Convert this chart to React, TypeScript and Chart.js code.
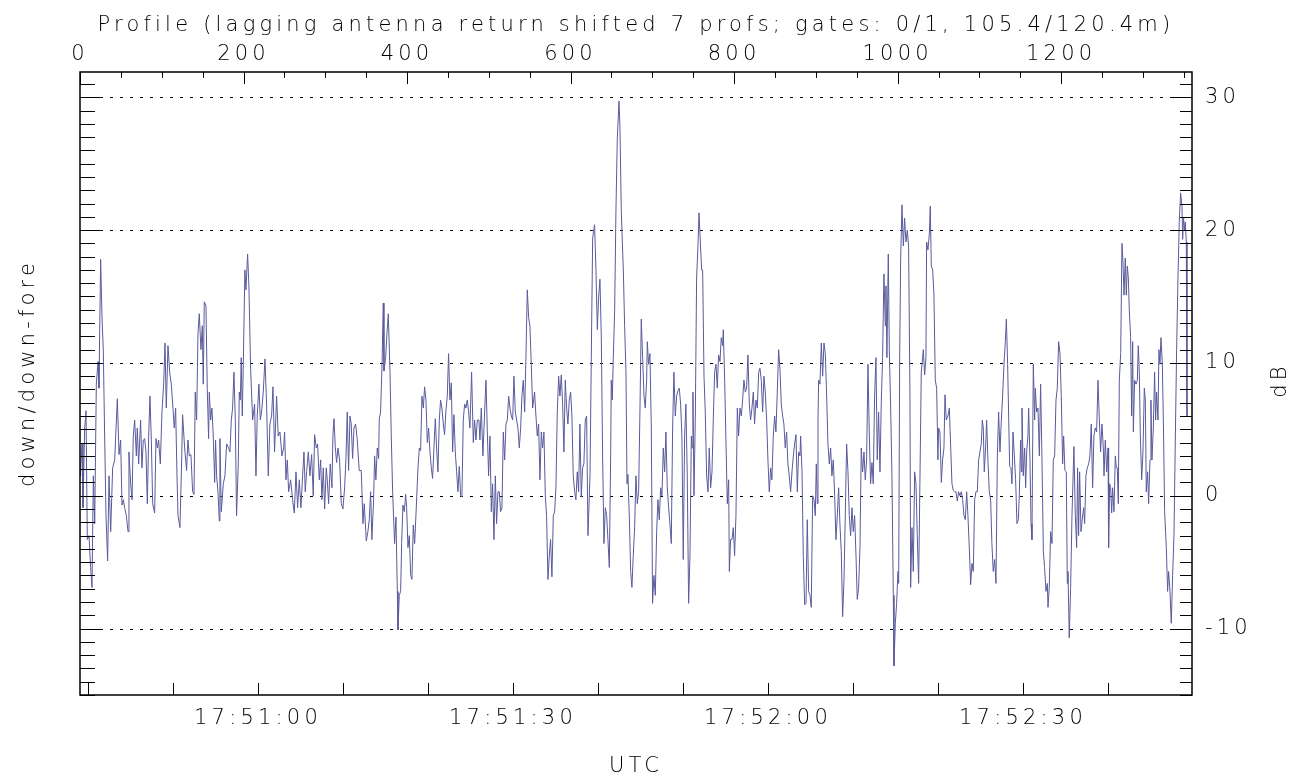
import React, { useEffect, useRef } from 'react';
import { Chart, registerables } from 'chart.js';

Chart.register(...registerables);

// ---------- texts ----------
const TITLE_TOP = 'Profile (lagging antenna return shifted 7 profs; gates: 0/1, 105.4/120.4m)';
const TITLE_BOTTOM = 'UTC';
const TITLE_LEFT = 'down/down-fore';
const TITLE_RIGHT = 'dB';

// ---------- axis ranges ----------
const TIME_START_S = 39.06; // seconds after 17:50:00 at the left edge
const TIME_END_S = 169.88;
const PROFILE_MIN = 0;
const PROFILE_MAX = 1360;
const DB_MIN = -15;
const DB_MAX = 31.9;
const DB_GRID = [-10, 0, 10, 20, 30];
const DB_LABELS = [-10, 0, 10, 20, 30];
const PROFILE_LABELS = [0, 200, 400, 600, 800, 1000, 1200];
const TIME_TICK_STEP = 10;
const TIME_LABEL_STEP = 30;
const PROFILE_LABEL_STEP = 200;
const PROFILE_MINOR_STEP = 50;

// ---------- data: offsets in 0.1 s from the left edge, values in dB ----------
const off1 = [0, 0.8, 2.4, 3.5, 5.5, 7.1, 8.6, 10.6, 12.5, 14.1, 15.7, 17.3, 19.2, 21.2, 22.3, 24.3, 25.9, 27.4, 29.0, 30.6, 32.5, 34.1, 36.1, 38.4, 40.8, 43.9, 45.9, 47.8, 49.4, 51.0, 52.5, 54.5, 56.5, 57.6, 59.6, 61.2, 62.7, 64.3, 66.3, 67.4, 69.0, 71.3, 72.9, 74.5, 76.1, 77.6, 79.2, 80.8, 82.3, 83.9, 85.5, 87.8, 89.4, 91.0, 92.5, 94.5, 96.4, 98.4, 100.0, 101.5, 103.5, 105.5, 107.4, 109.4, 110.9, 112.5, 114.1, 115.3];
const db1 = [1.5, 2.1, 3.9, -0.9, 5.1, 6.4, -3.3, -3.0, -5.4, -6.9, 1.5, -2.1, 8.4, 10.1, 8.1, 17.8, 13.4, 11.0, 4.5, -1.5, -4.9, 1.5, -2.7, 2.1, 2.7, 7.3, 3.1, 4.2, -0.7, -0.3, -0.9, -1.5, -2.7, 3.3, 0.9, -0.3, 4.5, 5.7, 3.0, 5.1, 2.4, 5.7, 2.1, 4.2, 4.3, 3.3, -0.6, 4.5, 7.5, 4.2, -0.6, -1.3, 4.3, 3.6, 4.2, 2.4, 6.3, 8.4, 11.5, 6.6, 11.3, 9.3, 8.4, 6.6, 5.1, 6.6, 1.5, -1.5];

const off2 = [117.6, 119.6, 120.7, 123.1, 125.4, 127.0, 128.6, 130.5, 132.5, 134.1, 135.6, 137.2, 138.8, 140.3, 142.3, 143.9, 145.0, 146.2, 148.2, 149.7, 151.3, 152.1, 153.7, 155.2, 156.8, 158.4, 159.5, 160.7, 162.3, 163.9, 164.6, 166.2, 168.6, 170.5, 172.5, 174.8, 176.4, 178.0, 179.5, 181.1, 182.7, 184.2, 186.2, 187.4, 188.6, 189.7, 190.9, 192.1, 194.0, 195.2, 197.2, 198.7, 200.7, 203.1, 205.4, 207.0, 208.5, 210.5, 212.1, 213.6, 215.6, 217.6, 219.5, 221.5, 223.4, 225.4, 227.0, 228.9, 231.3, 233.2, 235.2];
const db2 = [-2.4, 2.7, 6.1, 3.6, 1.9, 4.2, 3.0, 3.1, 0.3, 0.1, 7.8, 5.7, 12.2, 13.7, 11.0, 12.8, 8.4, 14.6, 14.3, 8.1, 4.3, 7.8, 5.7, 6.6, 4.5, 1.0, 4.2, 1.5, 0.3, -1.9, 4.3, -1.2, 0.9, 1.5, 3.9, 3.6, 3.3, 5.7, 6.6, 9.3, 5.7, -1.5, 2.4, 7.8, 7.2, 10.4, 6.0, 9.9, 17.0, 15.5, 18.2, 15.8, 9.6, 5.7, 6.9, 1.5, 6.0, 8.4, 5.7, 6.3, 7.8, 10.3, 6.9, 1.5, 5.4, 6.0, 8.2, 3.3, 7.5, 4.5, 4.8];

const off3 = [237.6, 239.6, 240.7, 242.3, 243.9, 245.4, 247.8, 250.1, 252.1, 254.1, 256.0, 258.0, 259.9, 261.9, 263.5, 265.0, 266.6, 268.6, 270.5, 272.5, 274.4, 276.0, 278.0, 279.5, 281.5, 283.1, 284.6, 286.2, 287.8, 289.7, 290.9, 292.5, 294.4, 296.4, 297.6, 298.8, 300.3, 301.9, 303.5, 305.4, 307.4, 309.3, 311.3, 312.9, 314.4, 316.0, 317.6, 319.1, 320.7, 322.3, 324.2, 326.2, 328.5, 330.9, 332.9, 334.4, 336.8, 338.7, 340.3, 341.9, 343.4, 345.4, 346.6, 348.1, 349.7, 351.3, 352.1, 353.6, 355.2, 356.8];
const db3 = [3.0, 3.6, 4.8, 1.2, 2.7, 0.3, 1.2, -0.3, -1.3, 1.8, -0.9, 1.2, -0.9, 1.5, 3.3, 0.3, 1.8, 3.3, 1.5, 3.1, 0.0, 4.6, 3.6, 3.9, 1.2, 2.7, -0.3, 2.1, -1.0, 2.1, 1.2, -0.6, 2.4, 0.6, 4.6, 5.8, 3.7, 2.5, 3.6, 2.7, -0.6, -1.0, 0.6, 2.8, 6.3, 1.9, 6.0, 5.4, 2.8, 5.1, 5.4, 4.2, 1.9, 1.9, -2.1, -0.6, -3.4, -2.7, -1.8, 0.3, -3.3, -0.3, 3.0, 1.2, 3.6, 2.8, 5.8, 6.3, 9.6, 14.5];

const off4 = [357.6, 359.6, 361.1, 362.7, 364.7, 366.2, 367.8, 370.1, 371.7, 373.3, 374.1, 375.6, 377.2, 378.4, 379.9, 381.5, 383.1, 384.3, 385.8, 387.4, 389.0, 390.5, 392.1, 393.7, 395.6, 397.6, 399.2, 400.7, 402.3, 403.9, 405.4, 407.0, 408.6, 410.1, 411.7, 413.3, 414.8, 416.4, 418.0, 419.5, 421.1, 422.7, 424.2, 425.8, 427.4, 428.9, 430.5, 432.1, 433.6, 435.2, 436.8, 438.4, 439.9, 441.5, 443.1, 444.6, 446.2, 447.8, 449.3, 450.9, 452.5, 454.0, 455.6, 457.2, 458.7, 460.7, 462.7, 464.2, 465.8, 467.4, 469.3, 470.5, 472.1, 474.0, 476.0];
const db4 = [9.4, 10.4, 12.2, 13.7, 9.3, 4.5, 0.3, -3.6, -1.6, -7.2, -10.1, -7.5, -7.2, -3.6, -0.7, -1.2, 0.1, -0.9, -3.9, -3.0, -6.0, -6.3, -2.2, -3.6, -0.9, 2.1, 3.6, 3.4, 7.5, 6.6, 8.2, 7.2, 4.0, 5.1, 3.3, 2.1, 1.3, 3.6, 5.8, 3.6, 1.8, 5.7, 7.2, 6.6, 5.4, 4.6, 6.4, 7.5, 10.7, 7.2, 8.5, 3.3, 6.1, 3.3, 1.8, 0.3, 2.2, 0.0, -0.1, 5.7, 6.9, 6.6, 7.2, 6.3, 5.1, 9.3, 4.0, 5.7, 4.2, 5.7, 5.7, 4.2, 6.6, 3.0, 6.3];

const off5 = [477.6, 479.2, 480.7, 482.3, 483.9, 485.4, 487.0, 488.6, 490.1, 491.7, 493.3, 494.8, 496.4, 498.0, 499.6, 501.1, 502.7, 504.3, 505.8, 507.4, 509.0, 510.5, 512.1, 513.7, 515.2, 516.8, 518.4, 519.9, 521.5, 523.1, 524.6, 526.2, 527.8, 529.3, 530.9, 532.5, 534.8, 536.4, 538.0, 539.5, 541.1, 542.7, 544.2, 545.8, 547.4, 548.9, 550.5, 552.1, 553.6, 555.2, 556.8, 558.4, 559.9, 561.5, 563.1, 564.6, 566.2, 567.8, 569.3, 570.9, 572.5, 574.0, 575.6, 577.2, 578.7, 580.3, 581.9, 583.4, 585.0, 586.6, 588.1, 589.7, 591.3, 592.8, 594.4, 596.0];
const db5 = [8.7, 4.8, 1.5, 4.5, -1.2, 0.9, -3.3, 1.5, -2.1, 0.3, 0.3, -1.2, -0.9, 4.8, 2.7, 5.4, 5.7, 7.5, 6.6, 6.0, 5.7, 9.0, 6.3, 5.7, 5.1, 3.6, 5.1, 7.5, 8.7, 6.3, 10.4, 15.5, 13.4, 12.8, 9.9, 6.6, 7.8, 6.0, 4.5, 5.4, 1.2, 4.8, 3.6, 4.8, 0.0, -1.5, -6.3, -4.5, -3.3, -6.1, -1.5, -1.2, 0.6, 6.3, 9.0, 7.5, 9.1, 6.9, 3.3, 8.7, 6.6, 5.4, 7.2, 7.8, 6.0, 1.5, 0.3, -0.3, 1.8, 0.3, 5.4, -0.1, 2.1, 2.4, 5.7, 6.0];

const off6 = [597.6, 598.4, 600.0, 601.5, 603.1, 605.4, 607.0, 608.6, 610.1, 611.7, 613.3, 614.8, 616.4, 618.0, 619.6, 621.1, 622.7, 624.3, 625.0, 626.2, 627.4, 629.0, 630.5, 632.1, 634.1, 635.2, 636.8, 638.0, 639.2, 640.7, 642.3, 643.5, 644.6, 646.2, 647.8, 649.3, 650.9, 652.5, 654.0, 655.6, 657.2, 658.8, 660.3, 661.9, 663.5, 665.0, 666.6, 667.4, 668.9, 670.5, 672.1, 673.6, 675.2, 676.8, 678.4, 679.9, 681.5, 683.1, 684.6, 686.2, 687.8, 689.3, 690.9, 692.5, 694.0, 695.6, 697.2, 698.7, 700.3, 701.9, 703.4, 705.0, 706.6, 708.1, 709.7, 711.3, 712.8, 714.4, 716.0];
const db6 = [-3.0, -1.5, 1.5, 10.4, 19.4, 20.4, 17.0, 12.5, 14.9, 16.3, 11.9, 3.0, -3.6, -0.9, -1.5, -3.3, -5.4, 3.0, 8.7, 7.2, 10.4, 14.0, 21.5, 26.9, 29.7, 27.8, 21.5, 19.1, 17.0, 12.8, 9.3, 0.9, 1.6, -1.5, -5.7, -6.9, -4.5, -2.4, 1.5, -0.6, 0.3, 6.6, 13.3, 10.4, 7.5, 6.6, 8.7, 11.6, 9.9, 10.7, 5.1, -8.1, -6.0, -7.5, -2.7, -0.3, -1.8, 0.6, 0.0, 3.6, 1.8, 4.8, 0.6, -0.9, -2.1, -3.6, 5.1, 9.3, 6.0, 7.5, 7.9, 8.1, 6.9, 4.5, -4.8, 4.5, 6.9, 1.5, -8.1];

const off7 = [717.6, 719.2, 720.0, 721.1, 722.3, 723.9, 725.4, 727.0, 728.2, 729.8, 731.3, 732.5, 734.1, 735.6, 737.2, 738.8, 740.3, 741.9, 743.5, 745.0, 746.6, 748.2, 749.7, 751.3, 752.9, 754.4, 756.0, 756.8, 758.4, 759.9, 761.5, 763.1, 763.9, 765.4, 767.0, 768.6, 770.1, 771.7, 773.3, 774.8, 776.4, 778.0, 779.5, 781.1, 782.7, 784.2, 785.8, 787.4, 788.9, 790.5, 792.1, 793.6, 795.2, 796.8, 798.4, 799.9, 801.5, 803.1, 804.6, 806.2, 807.8, 809.3, 810.9, 812.5, 814.0, 815.6, 817.2, 818.7, 820.3, 821.9, 823.4, 825.0, 826.6, 828.1, 829.7, 831.3, 832.8, 834.4, 836.0];
const db7 = [-4.5, 4.5, 3.6, 7.8, 0.0, 6.0, 16.4, 18.8, 21.3, 19.1, 17.0, 17.0, 9.0, 6.3, 1.5, 0.3, 3.6, 0.6, 1.8, 5.7, 9.3, 9.9, 8.1, 10.6, 10.1, 11.9, 11.3, 12.5, 8.7, 4.2, -0.6, 1.2, -5.7, -3.3, -3.3, -2.4, -4.5, -1.5, 6.6, 4.5, 6.6, 6.0, 7.2, 8.7, 7.8, 8.1, 10.6, 6.9, 5.7, 6.6, 7.8, 5.4, 7.2, 6.6, 9.3, 9.6, 8.7, 6.3, 9.0, 7.8, 5.7, 2.7, 0.3, 2.1, 1.2, 4.5, 6.0, 4.8, 7.8, 11.0, 9.6, 6.9, 6.0, 5.4, 3.6, 4.8, 2.4, 1.5, 0.3];

const off8 = [837.6, 839.2, 840.7, 842.3, 843.9, 845.4, 847.0, 847.8, 849.4, 850.9, 852.5, 854.1, 855.6, 857.2, 858.8, 860.3, 861.9, 863.5, 865.0, 866.2, 867.4, 868.2, 869.0, 870.5, 872.1, 873.7, 875.2, 876.8, 878.4, 879.9, 881.5, 883.1, 884.6, 886.2, 887.8, 889.3, 890.9, 892.5, 894.0, 895.6, 897.2, 898.8, 900.3, 901.9, 903.5, 905.0, 906.6, 908.2, 909.7, 911.3, 912.9, 914.4, 916.0, 917.6, 919.1, 920.7, 922.3, 923.8, 925.4, 927.0, 928.5, 930.1, 931.7, 933.2, 934.8, 936.4, 937.9, 939.5, 941.1, 942.7, 944.2, 945.8, 947.4, 948.1, 949.3, 950.9, 952.1, 953.6, 955.2, 956.8];
const db8 = [1.8, 3.0, 3.9, 4.6, 0.3, 3.3, 3.0, 4.5, 1.8, -4.5, -8.2, -8.1, -1.8, -7.2, -7.5, -8.4, 0.0, -0.3, -1.5, 2.4, -0.6, 5.7, 8.7, 8.4, 11.5, 9.0, 11.5, 10.7, 7.5, 3.9, 2.4, 3.6, 1.5, 2.7, 0.0, -3.3, -1.5, 0.6, -2.1, -4.2, -9.1, -6.3, -1.5, 3.9, 1.8, -1.5, -3.0, -0.9, -2.7, -1.5, -4.5, -7.8, -6.9, -3.9, 3.6, 1.8, 3.3, 1.2, 2.7, 9.9, 4.8, 0.9, 2.5, 0.9, 7.5, 10.4, 2.7, 6.3, 1.8, 7.2, 10.4, 16.7, 12.8, 15.8, 10.4, 18.2, 11.0, 6.9, 1.5, -7.5];

const off9 = [957.6, 959.2, 960.7, 962.3, 963.1, 964.3, 965.4, 967.0, 968.6, 970.1, 971.7, 973.3, 974.8, 976.4, 977.2, 978.8, 980.3, 981.9, 983.5, 985.0, 986.6, 988.2, 989.7, 991.3, 992.1, 993.7, 995.2, 996.0, 997.6, 999.2, 1000.3, 1001.5, 1003.1, 1004.6, 1006.2, 1007.8, 1009.3, 1010.1, 1011.7, 1013.3, 1014.8, 1016.4, 1017.6, 1019.1, 1021.1, 1022.7, 1024.2, 1025.8, 1027.4, 1028.9, 1030.5, 1032.1, 1033.6, 1035.2, 1036.8, 1038.4, 1039.9, 1041.5, 1043.1, 1044.6, 1046.2, 1047.8, 1049.3, 1050.9, 1052.5, 1054.0, 1055.6, 1057.2, 1058.7, 1060.3, 1061.5, 1062.7, 1063.8, 1065.4, 1066.6, 1068.1, 1069.7, 1071.3, 1072.8, 1074.4, 1076.0];
const db9 = [-12.8, -9.6, -8.1, -5.7, -6.6, 10.4, 17.6, 21.9, 18.8, 20.9, 19.1, 20.0, 18.8, 7.5, -6.9, -2.4, -5.7, 1.8, 0.9, -3.0, -6.6, 1.5, 9.3, 10.4, 11.0, 9.1, 10.4, 19.1, 18.5, 19.7, 21.8, 17.3, 17.0, 15.2, 8.7, 8.1, 2.7, 5.1, 4.8, 1.0, 2.7, 3.6, 7.6, 5.7, 6.0, 6.6, 3.9, 0.9, 0.4, 0.3, 0.3, -0.4, 0.3, 0.0, 0.3, -0.3, -1.5, -1.8, 0.3, -1.5, -3.9, -6.7, -5.1, -5.7, -0.3, 0.3, 0.3, 2.7, 3.3, 3.9, 5.7, 5.1, 1.8, 3.6, 5.7, 2.7, 0.3, -0.3, -3.6, -5.7, -4.8];

const off10 = [1077.6, 1079.2, 1080.7, 1082.3, 1083.9, 1085.4, 1087.0, 1088.6, 1089.8, 1091.3, 1092.5, 1093.7, 1095.2, 1096.4, 1097.6, 1099.2, 1100.7, 1102.3, 1103.9, 1105.0, 1106.6, 1107.4, 1108.2, 1109.7, 1111.3, 1112.5, 1113.7, 1115.2, 1116.0, 1117.6, 1118.8, 1119.9, 1121.5, 1123.1, 1123.9, 1125.4, 1127.0, 1128.6, 1130.1, 1131.7, 1133.3, 1134.8, 1136.4, 1138.0, 1138.8, 1140.3, 1141.9, 1143.5, 1145.0, 1146.6, 1148.2, 1149.7, 1151.3, 1152.9, 1154.4, 1156.0, 1157.2, 1158.7, 1160.3, 1161.5, 1162.3, 1163.8, 1165.4, 1167.0, 1169.3, 1170.9, 1172.5, 1173.6, 1174.8, 1176.0, 1177.6, 1179.1, 1180.7, 1181.9, 1183.4, 1185.0, 1186.6, 1188.1, 1189.7, 1191.3, 1192.8, 1194.4, 1196.0];
const db10 = [-6.6, 3.0, 6.3, 3.3, 5.7, 7.5, 9.9, 11.6, 13.3, 9.9, 6.0, 2.2, 2.1, 0.9, 4.8, 3.0, 1.2, -2.1, -1.8, 0.0, 4.2, 1.8, 6.6, 1.5, 3.6, 0.6, 3.3, 4.5, 6.6, 2.7, -2.1, -3.3, 9.9, 5.7, 8.1, 6.3, 6.6, 3.0, 8.4, 2.7, -4.2, -5.4, -7.2, -6.6, -8.4, -6.9, -2.7, -3.6, 2.7, 3.0, 7.2, 8.1, 11.6, 10.7, 7.5, 2.4, 4.5, 1.9, 1.8, -6.6, -5.7, -10.7, -6.9, -1.5, 3.7, -1.5, -3.9, 2.1, -3.0, 1.8, -2.7, -1.8, -0.9, -2.1, 1.5, 2.1, 2.4, 3.0, 5.4, 0.6, 4.5, 5.1, 4.8];

const off11 = [1197.6, 1199.2, 1200.7, 1202.3, 1203.9, 1204.7, 1206.2, 1207.8, 1209.4, 1210.1, 1211.3, 1212.5, 1213.7, 1214.8, 1216.4, 1218.0, 1219.2, 1220.3, 1221.5, 1222.7, 1224.3, 1225.8, 1227.0, 1228.2, 1229.7, 1230.9, 1232.1, 1233.3, 1234.4, 1236.0, 1237.2, 1238.4, 1239.2, 1240.7, 1242.3, 1243.9, 1245.0, 1246.2, 1247.4, 1249.0, 1250.5, 1252.1, 1253.3, 1254.4, 1256.0, 1257.2, 1258.8, 1259.9, 1261.1, 1262.7, 1264.2, 1265.4, 1266.6, 1268.2, 1269.3, 1270.5, 1271.7, 1273.3, 1274.8, 1276.0, 1278.0, 1279.5, 1280.7, 1282.3, 1283.8, 1285.4, 1287.0, 1288.5, 1290.1, 1291.7, 1293.2, 1294.8, 1296.4, 1297.2, 1298.3, 1299.5, 1300.3, 1301.5, 1302.3];
const db11 = [8.7, 5.7, 3.3, 5.4, 3.6, 1.5, 4.2, 1.8, 3.6, -3.9, 0.9, 0.6, -1.3, 0.6, -1.2, 3.0, 2.1, 2.1, -0.6, 8.7, 10.7, 19.0, 17.6, 15.1, 17.9, 15.1, 17.3, 16.4, 14.0, 11.9, 6.0, 11.6, 4.8, 8.7, 8.4, 8.7, 11.3, 9.3, 4.5, 1.2, 3.3, 8.1, 7.2, 0.3, 1.8, -0.6, 2.7, 7.2, 2.7, 5.1, 9.3, 5.7, 7.8, 5.7, 11.0, 9.9, 11.9, 9.9, 4.5, -1.2, -3.9, -7.2, -5.7, -7.2, -9.6, -6.0, -3.0, 3.9, 11.0, 16.4, 20.6, 22.8, 21.8, 19.3, 20.9, 20.0, 20.6, 19.1, 6.0];

const SEGMENTS: [number[], number[]][] = [
  [off1, db1], [off2, db2], [off3, db3], [off4, db4], [off5, db5], [off6, db6],
  [off7, db7], [off8, db8], [off9, db9], [off10, db10], [off11, db11],
];

// ---------- styles ----------
const LINE_COLOR = '#5a5a9c';
const TEXT_COLOR = '#000';
const FONT_FAMILY = '"DejaVu Sans", "Liberation Sans", sans-serif';
const FONT_SIZE = 21;
const FONT_WEIGHT = 200;
const LETTER_SPACING = '4.2px';
const GRID_DASH = [3, 7];
const LEFT_W = 80;
const RIGHT_W = 116;
const TOP_H = 72;
const BOTTOM_H = 85;
const TICK_Y_MAJOR = 22;
const TICK_Y_MINOR_L = 15;
const TICK_Y_MINOR_R = 12;
const TICK_BOTTOM = 12;
const TICK_TOP_MAJOR = 12;
const TICK_TOP_MINOR = 6;
const LEFT_TITLE_X = 29;
const LEFT_TITLE_Y = 373;
const RIGHT_TITLE_X = 1281;
const RIGHT_TITLE_Y = 380;

const font = { family: FONT_FAMILY, size: FONT_SIZE, weight: FONT_WEIGHT as any };
const fontString = `${FONT_WEIGHT} ${FONT_SIZE}px ${FONT_FAMILY}`;

function fmtTime(sec: number): string {
  const total = 17 * 3600 + 50 * 60 + Math.round(sec);
  const h = Math.floor(total / 3600);
  const m = Math.floor((total % 3600) / 60);
  const s = total % 60;
  const p = (n: number) => String(n).padStart(2, '0');
  return `${p(h)}:${p(m)}:${p(s)}`;
}

function fmtDb(v: number): string {
  return String(v);
}

function drawVerticalText(ctx: any, text: string, x: number, y: number) {
  ctx.save();
  ctx.font = fontString;
  ctx.letterSpacing = LETTER_SPACING;
  ctx.fillStyle = TEXT_COLOR;
  ctx.textAlign = 'center';
  ctx.textBaseline = 'middle';
  ctx.translate(x, y);
  ctx.rotate(-Math.PI / 2);
  ctx.fillText(text, 0, 0);
  ctx.restore();
}

const framePlugin = {
  id: 'idlFrame',
  beforeLayout(chart: any) {
    chart.ctx.letterSpacing = LETTER_SPACING;
  },
  beforeDraw(chart: any) {
    chart.ctx.letterSpacing = LETTER_SPACING;
  },
  beforeDatasetsDraw(chart: any) {
    const { ctx, chartArea: a, scales } = chart;
    ctx.save();
    ctx.strokeStyle = '#000';
    ctx.lineWidth = 1;
    ctx.setLineDash(GRID_DASH);
    for (const v of DB_GRID) {
      const y = Math.round(scales.y.getPixelForValue(v)) + 0.5;
      ctx.beginPath();
      ctx.moveTo(a.left, y);
      ctx.lineTo(a.right, y);
      ctx.stroke();
    }
    ctx.restore();
  },
  afterDatasetsDraw(chart: any) {
    const { ctx, chartArea: a, scales } = chart;
    ctx.save();
    ctx.strokeStyle = '#000';
    ctx.lineWidth = 1;
    ctx.setLineDash([]);
    ctx.beginPath();
    for (let v = Math.ceil(DB_MIN); v <= Math.floor(DB_MAX); v++) {
      const py = Math.round(scales.y.getPixelForValue(v)) + 0.5;
      const major = v % 10 === 0;
      ctx.moveTo(a.left, py);
      ctx.lineTo(a.left + (major ? TICK_Y_MAJOR : TICK_Y_MINOR_L), py);
      ctx.moveTo(a.right, py);
      ctx.lineTo(a.right - (major ? TICK_Y_MAJOR : TICK_Y_MINOR_R), py);
    }
    for (let t = Math.ceil(TIME_START_S / TIME_TICK_STEP) * TIME_TICK_STEP; t <= TIME_END_S; t += TIME_TICK_STEP) {
      const px = Math.round(scales.x.getPixelForValue(t)) + 0.5;
      ctx.moveTo(px, a.bottom);
      ctx.lineTo(px, a.bottom - TICK_BOTTOM);
    }
    for (let p = PROFILE_MIN; p <= PROFILE_MAX; p += PROFILE_MINOR_STEP) {
      const px = Math.round(scales.xTop.getPixelForValue(p)) + 0.5;
      ctx.moveTo(px, a.top);
      ctx.lineTo(px, a.top + (p % PROFILE_LABEL_STEP === 0 ? TICK_TOP_MAJOR : TICK_TOP_MINOR));
    }
    ctx.stroke();
    ctx.lineWidth = 1.5;
    ctx.strokeRect(a.left, a.top, a.right - a.left, a.bottom - a.top);
    ctx.restore();
  },
  afterDraw(chart: any) {
    const { ctx } = chart;
    drawVerticalText(ctx, TITLE_LEFT, LEFT_TITLE_X, LEFT_TITLE_Y);
    drawVerticalText(ctx, TITLE_RIGHT, RIGHT_TITLE_X, RIGHT_TITLE_Y);
  },
};

export default function App() {
  const ref = useRef<HTMLCanvasElement | null>(null);

  useEffect(() => {
    document.body.style.margin = '0';
    const canvas = ref.current;
    if (!canvas) return;
    const points: { x: number; y: number }[] = [];
    for (const [offs, vals] of SEGMENTS) {
      offs.forEach((o, i) => points.push({ x: TIME_START_S + o / 10, y: vals[i] }));
    }
    const timeTicks: number[] = [];
    for (let t = Math.ceil(TIME_START_S / TIME_TICK_STEP) * TIME_TICK_STEP; t <= TIME_END_S; t += TIME_TICK_STEP) {
      timeTicks.push(t);
    }
    const chart = new Chart(canvas, {
      type: 'line',
      data: {
        datasets: [
          {
            data: points,
            borderColor: LINE_COLOR,
            borderWidth: 1,
            pointRadius: 0,
            tension: 0,
            fill: false,
            xAxisID: 'x',
            yAxisID: 'y',
          },
        ],
      },
      options: {
        animation: false,
        responsive: false,
        maintainAspectRatio: false,
        layout: { padding: 0 },
        plugins: { legend: { display: false }, tooltip: { enabled: false } },
        scales: {
          x: {
            type: 'linear',
            position: 'bottom',
            min: TIME_START_S,
            max: TIME_END_S,
            afterFit: (s: any) => { s.height = BOTTOM_H; },
            afterBuildTicks: (s: any) => { s.ticks = timeTicks.map((v) => ({ value: v })); },
            ticks: {
              autoSkip: false,
              maxRotation: 0,
              padding: 11,
              color: TEXT_COLOR,
              font,
              callback: (v: any) => (Math.round(v) % TIME_LABEL_STEP === 0 ? fmtTime(v) : ''),
            },
            grid: { display: false, drawTicks: false },
            border: { display: false },
            title: { display: true, text: TITLE_BOTTOM, color: TEXT_COLOR, font, padding: { top: 0, bottom: 1 } },
          },
          xTop: {
            type: 'linear',
            position: 'top',
            min: PROFILE_MIN,
            max: PROFILE_MAX,
            afterFit: (s: any) => { s.height = TOP_H; },
            afterBuildTicks: (s: any) => { s.ticks = PROFILE_LABELS.map((v) => ({ value: v })); },
            ticks: {
              autoSkip: false,
              maxRotation: 0,
              padding: 5,
              color: TEXT_COLOR,
              font,
              callback: (v: any) => String(v),
            },
            grid: { display: false, drawTicks: false },
            border: { display: false },
            title: { display: true, text: TITLE_TOP, color: TEXT_COLOR, font, padding: { top: 13, bottom: 0 } },
          },
          y: {
            type: 'linear',
            position: 'left',
            min: DB_MIN,
            max: DB_MAX,
            afterFit: (s: any) => { s.width = LEFT_W; },
            ticks: { display: false },
            grid: { display: false, drawTicks: false },
            border: { display: false },
          },
          yR: {
            type: 'linear',
            position: 'right',
            min: DB_MIN,
            max: DB_MAX,
            afterFit: (s: any) => { s.width = RIGHT_W; },
            afterBuildTicks: (s: any) => { s.ticks = DB_LABELS.map((v) => ({ value: v })); },
            ticks: {
              autoSkip: false,
              padding: 13,
              color: TEXT_COLOR,
              font,
              callback: (v: any) => fmtDb(v),
            },
            grid: { display: false, drawTicks: false },
            border: { display: false },
          },
        },
      } as any,
      plugins: [framePlugin as any],
    });
    return () => chart.destroy();
  }, []);

  return (
    <div style={{ width: 1308, height: 780 }}>
      <canvas ref={ref} width={1308} height={780} style={{ display: 'block' }} />
    </div>
  );
}
